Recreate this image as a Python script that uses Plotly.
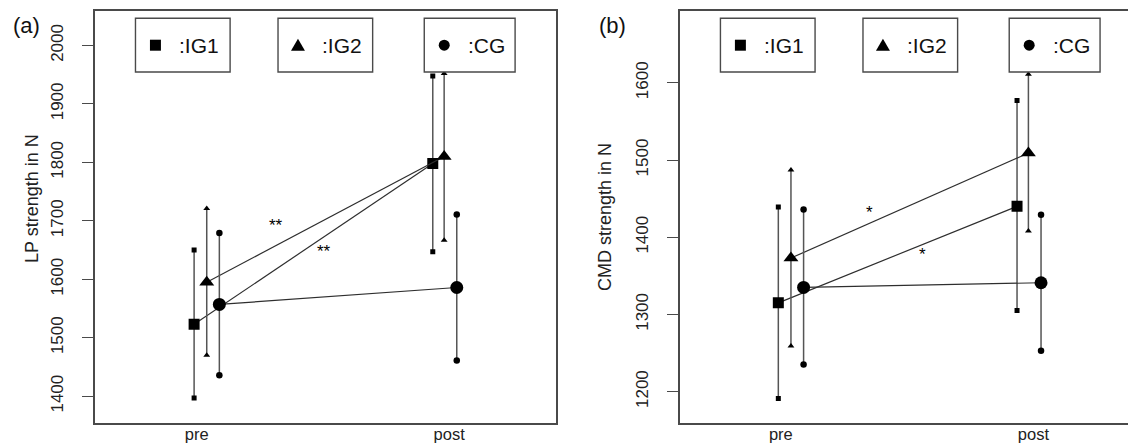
import plotly.graph_objects as go

# ---------------- data ----------------
groups = ["IG1", "IG2", "CG"]
timepoints = ["pre", "post"]

# Panel (a): LP strength in N
lp_mean_pre = [1523, 1595, 1557]
lp_mean_post = [1798, 1810, 1586]
lp_low_pre = [1397, 1470, 1436]
lp_low_post = [1647, 1667, 1461]
lp_up_pre = [1650, 1721, 1679]
lp_up_post = [1948, 1952, 1711]

# Panel (b): CMD strength in N
cmd_mean_pre = [1315, 1373, 1335]
cmd_mean_post = [1440, 1509, 1341]
cmd_low_pre = [1191, 1259, 1235]
cmd_low_post = [1305, 1408, 1253]
cmd_up_pre = [1439, 1487, 1436]
cmd_up_post = [1577, 1611, 1429]

lp_ticks = [1400, 1500, 1600, 1700, 1800, 1900, 2000]
cmd_ticks = [1200, 1300, 1400, 1500, 1600]

lp_sig = ["**", "**"]
cmd_sig = ["*", "*"]

# ---------------- layout constants ----------------
PAGE_W, PAGE_H = 1136, 446
OFF = 8  # default page body margin
W, H = PAGE_W - OFF, PAGE_H - OFF
FONT = "Liberation Sans, Arial, Helvetica, sans-serif"
X_PRE = [0.99, 1.04, 1.09]
X_POST = [1.935, 1.98, 2.03]
SYMBOLS = ["square", "triangle-up", "circle"]
MEAN_SIZE = [11, 13, 13]
CAP_SIZE = [5, 6, 6.5]
LINE_COL = "#2e2e2e"
BAR_COL = "#555555"
BOX_COL = "#4a4a4a"

PANELS = [
    dict(left=95, right=557, xr=[0.597, 2.423], yr=[1355, 2059],
         mean=(lp_mean_pre, lp_mean_post), low=(lp_low_pre, lp_low_post),
         up=(lp_up_pre, lp_up_post), ticks=lp_ticks, title="LP strength in N",
         tx=32, ty=198, tag="(a)", tagx=27, sig=lp_sig,
         sigpos=[(1.315, 1699), (1.506, 1654)]),
    dict(left=681, right=1136, xr=[0.60, 2.398], yr=[1160, 1693],
         mean=(cmd_mean_pre, cmd_mean_post), low=(cmd_low_pre, cmd_low_post),
         up=(cmd_up_pre, cmd_up_post), ticks=cmd_ticks, title="CMD strength in N",
         tx=606, ty=217, tag="(b)", tagx=614, sig=cmd_sig,
         sigpos=[(1.349, 1437), (1.56, 1383)]),
]
TOP, BOTTOM = 11, 422.5


def px(x):
    return (x - OFF) / W


def py(y):
    return 1 - (y - OFF) / H


fig = go.Figure()
shapes = []
annotations = []

for pi, p in enumerate(PANELS):
    ax = "" if pi == 0 else str(pi + 1)
    xa, ya = "x" + ax, "y" + ax
    mpre, mpost = p["mean"]
    lpre, lpost = p["low"]
    upre, upost = p["up"]
    for gi, g in enumerate(groups):
        # connecting line
        fig.add_trace(go.Scatter(
            x=[X_PRE[gi], X_POST[gi]], y=[mpre[gi], mpost[gi]], mode="lines",
            line=dict(color=LINE_COL, width=1.2), xaxis=xa, yaxis=ya,
            showlegend=False, hoverinfo="skip"))
        # error bars (vertical whiskers)
        for xv, lo, hi in ((X_PRE[gi], lpre[gi], upre[gi]), (X_POST[gi], lpost[gi], upost[gi])):
            fig.add_trace(go.Scatter(
                x=[xv, xv], y=[lo, hi], mode="lines+markers",
                line=dict(color=BAR_COL, width=1.5),
                marker=dict(symbol=SYMBOLS[gi], size=CAP_SIZE[gi], color="black"),
                xaxis=xa, yaxis=ya, showlegend=False, hoverinfo="skip"))
        # means
        fig.add_trace(go.Scatter(
            x=[X_PRE[gi], X_POST[gi]], y=[mpre[gi], mpost[gi]], mode="markers",
            marker=dict(symbol=SYMBOLS[gi], size=MEAN_SIZE[gi], color="black"),
            xaxis=xa, yaxis=ya, name=g, showlegend=False))
    # significance stars
    for s, (sx, sy) in zip(p["sig"], p["sigpos"]):
        annotations.append(dict(x=sx, y=sy, xref=xa, yref=ya, text=s, showarrow=False,
                                font=dict(family=FONT, size=17, color="black"),
                                yshift=-4))
    # y title
    annotations.append(dict(x=px(p["tx"]), y=py(p["ty"]), xref="paper", yref="paper",
                            text=p["title"], textangle=-90, showarrow=False,
                            font=dict(family=FONT, size=18, color="#222"),
                            xanchor="center", yanchor="middle"))
    # panel tag
    annotations.append(dict(x=px(p["tagx"]), y=py(26), xref="paper", yref="paper",
                            text=p["tag"], showarrow=False,
                            font=dict(family=FONT, size=22, color="#111"),
                            xanchor="center", yanchor="middle"))
    # legend boxes
    L = p["left"]
    for gi, (b0, b1) in enumerate([(40.7, 135.5), (183.5, 278.3), (330, 421)]):
        shapes.append(dict(type="rect", xref="paper", yref="paper",
                           x0=px(L + b0), x1=px(L + b1), y0=py(72), y1=py(18.3),
                           line=dict(color=BOX_COL, width=1.4), fillcolor="white", layer="above"))
        cx = L + b0 + 20
        cy = 45.2
        if gi == 0:
            shapes.append(dict(type="rect", xref="paper", yref="paper",
                               x0=px(cx - 5.5), x1=px(cx + 5.5), y0=py(cy + 5.5), y1=py(cy - 5.5),
                               line=dict(width=0), fillcolor="black", layer="above"))
        elif gi == 1:
            path = "M {:.5f},{:.5f} L {:.5f},{:.5f} L {:.5f},{:.5f} Z".format(
                px(cx - 7), py(cy + 5.5), px(cx + 7), py(cy + 5.5), px(cx), py(cy - 6.5))
            shapes.append(dict(type="path", xref="paper", yref="paper", path=path,
                               line=dict(width=0), fillcolor="black", layer="above"))
        else:
            shapes.append(dict(type="circle", xref="paper", yref="paper",
                               x0=px(cx - 5.5), x1=px(cx + 5.5), y0=py(cy + 5.5), y1=py(cy - 5.5),
                               line=dict(width=0), fillcolor="black", layer="above"))
        annotations.append(dict(x=px(L + b0 + 42), y=py(cy), xref="paper", yref="paper",
                                text=":" + groups[gi], showarrow=False, xanchor="left",
                                yanchor="middle",
                                font=dict(family=FONT, size=21, color="#111")))

    common_x = dict(domain=[px(p["left"]), min(1, px(p["right"]))], range=p["xr"],
                    tickvals=[1, 2], ticktext=timepoints, ticks="", showgrid=False,
                    zeroline=False, showline=True, linecolor=BOX_COL, linewidth=1.5,
                    mirror=True, tickfont=dict(family=FONT, size=16.5, color="#222"),
                    ticklabelstandoff=-4, anchor=ya)
    common_y = dict(domain=[py(BOTTOM), py(TOP)], range=p["yr"], tickvals=p["ticks"],
                    ticks="outside", ticklen=11, tickwidth=1.3, tickcolor=BOX_COL,
                    tickangle=-90, showgrid=False, zeroline=False, showline=True,
                    linecolor=BOX_COL, linewidth=1.5, mirror=True,
                    tickfont=dict(family=FONT, size=17, color="#222"),
                    ticklabelstandoff=12, anchor=xa)
    fig.update_layout(**{"xaxis" + ax: common_x, "yaxis" + ax: common_y})

fig.update_layout(width=W, height=H, margin=dict(l=0, r=0, t=0, b=0),
                  plot_bgcolor="white", paper_bgcolor="white",
                  shapes=shapes, annotations=annotations, showlegend=False)
fig.write_html("out.html")
